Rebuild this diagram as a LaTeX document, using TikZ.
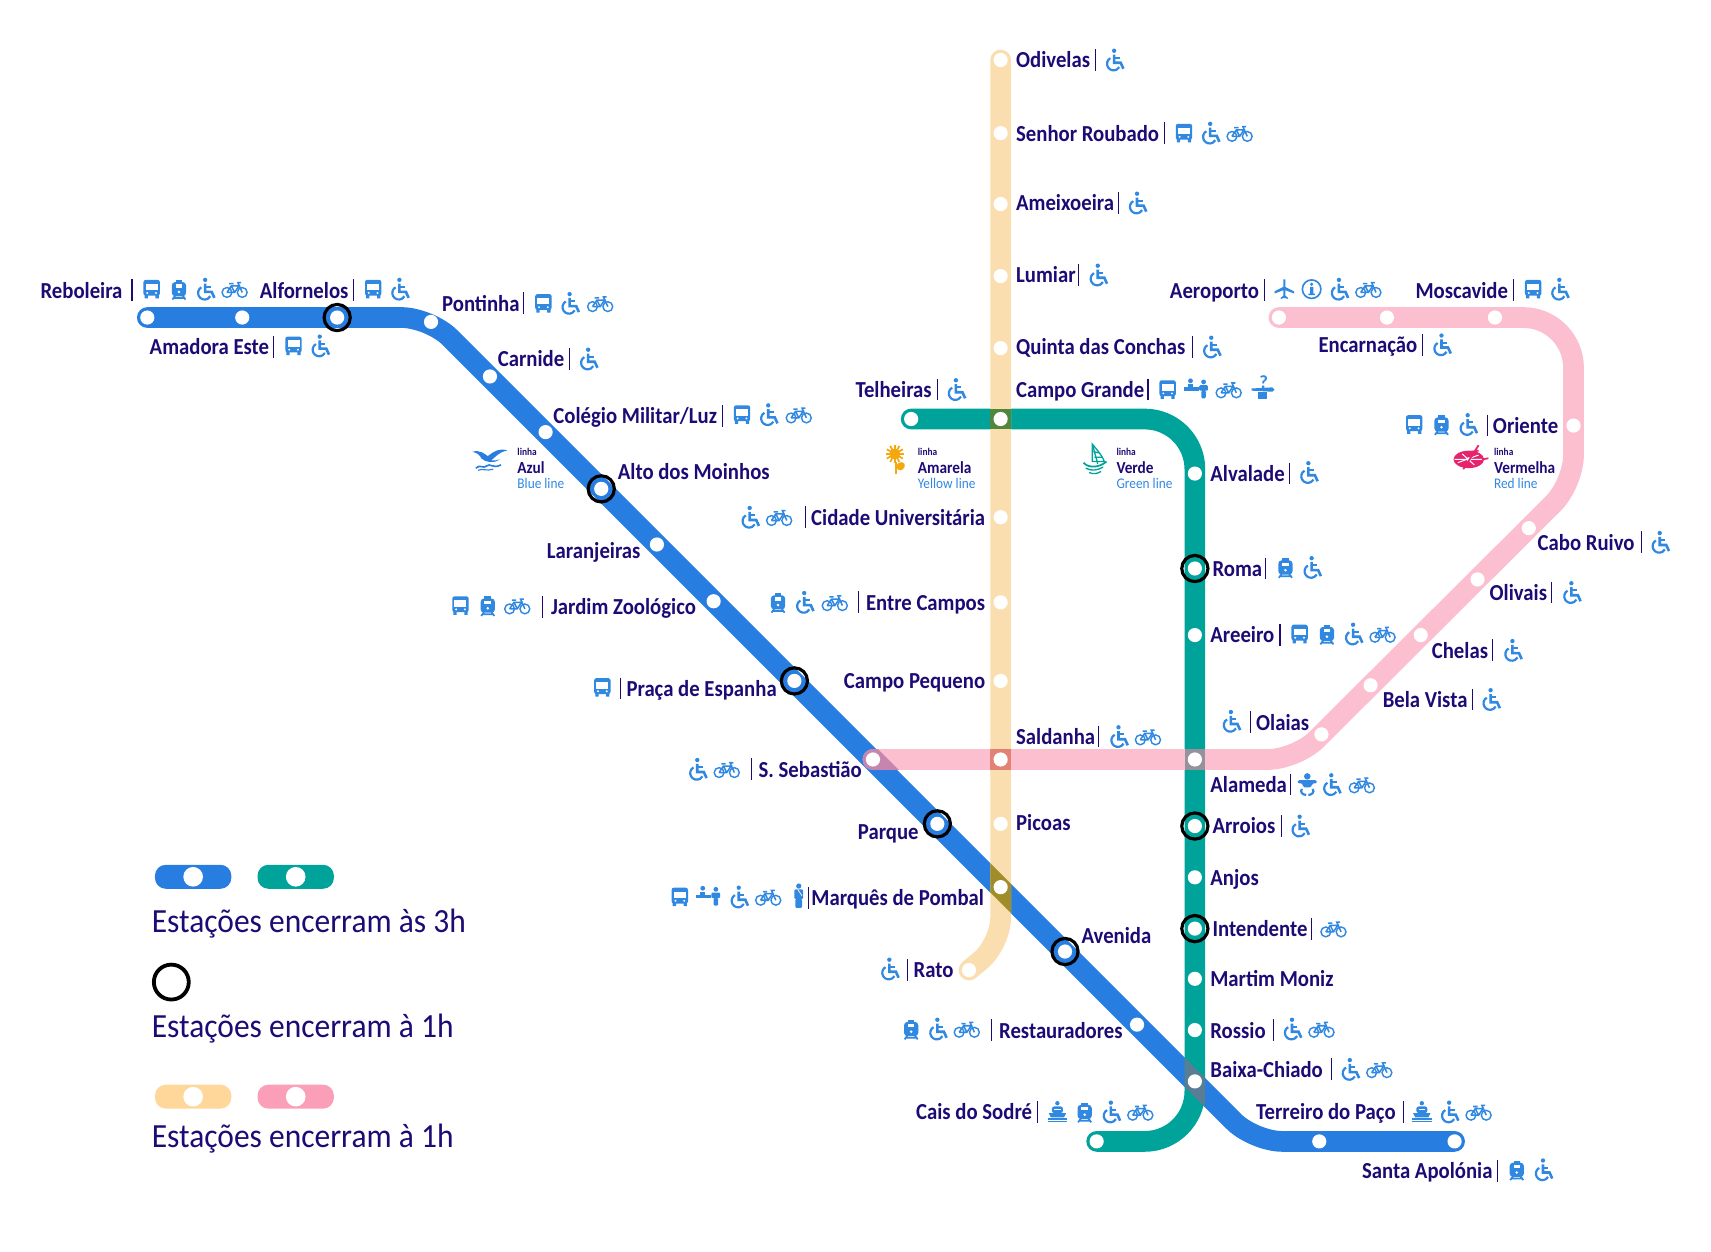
\documentclass[tikz,border=0pt]{standalone}
\usepackage{fontspec}
\setmainfont{Carlito}
\newfontfamily\stnfont{Carlito}[FakeStretch=0.905]
\newfontfamily\keyfont{Carlito}[FakeStretch=0.93]
\usepackage{tikz}
\definecolor{navy}{HTML}{1D0A74}
\definecolor{iconblue}{HTML}{3088E0}
\definecolor{lineblue}{HTML}{287DE0}
\definecolor{linegreen}{HTML}{00A39A}
\definecolor{lineyellow}{HTML}{FADEAF}
\definecolor{linepink}{HTML}{FBBFCF}
\definecolor{pillyellow}{HTML}{FFD79B}
\definecolor{pillpink}{HTML}{FA9FB7}
\definecolor{flowergold}{HTML}{F5A70F}
\definecolor{compasspink}{HTML}{E6246E}
\tikzset{
  metro/.style={line width=19,line cap=round,line join=round,rounded corners=#1},
  metro/.default=0,
  stn/.style={shape=circle,draw=none,fill=white,inner sep=0pt,minimum size=13},
  ringstn/.style={shape=circle,draw=black,line width=2.9,fill=none,inner sep=0pt,minimum size=24},
  lw/.style={anchor=west,inner sep=0pt,text=navy,text height=17.5,text depth=3,font=\fontsize{21}{21}\stnfont\bfseries},
  le/.style={lw,anchor=east},
  legendtext/.style={anchor=west,inner sep=0pt,text=navy,text height=20,text depth=3,font=\fontsize{31}{31}\keyfont},
  sepline/.style={draw=navy,line width=1},
  lsmall/.style={anchor=west,inner sep=0pt,text=navy,font=\fontsize{9.5}{10}\stnfont\bfseries},
  lname/.style={anchor=west,inner sep=0pt,text=navy,font=\fontsize{15.5}{16}\stnfont\bfseries},
  lenglish/.style={anchor=west,inner sep=0pt,text=iconblue,font=\fontsize{13.5}{14}\stnfont},
  busicon/.pic={
    \fill[iconblue,rounded corners=2] (-7.5,-8.5) rectangle (7.5,6);
    \fill[iconblue] (-6.5,5) rectangle (-3.5,8.5) (3.5,5) rectangle (6.5,8.5);
    \fill[white] (-5.5,-5) rectangle (5.5,1);
    \fill[white] (-4,3.5) circle (1) (4,3.5) circle (1);
  },
  trainicon/.pic={
    \fill[iconblue,rounded corners=3] (-6.5,-6.5) rectangle (6.5,6.5);
    \fill[iconblue] (-3,-8.5) rectangle (3,-5);
    \draw[iconblue,line width=1.6] (-3.5,6) -- (-6,9.5) (3.5,6) -- (6,9.5) (-5,8) -- (5,8);
    \fill[white] (-3,-4.5) rectangle (3,-1.5);
    \fill[white] (0,2.5) circle (1.3);
  },
  wheelicon/.pic={
    \fill[iconblue] (-1,-8.5) circle (2);
    \draw[iconblue,line width=2.4] (-1,-5) -- (-1,2.5) -- (5,2.5) -- (7.5,8);
    \draw[iconblue,line width=1.8] (-1,-2) -- (4,-2);
    \draw[iconblue,line width=2] ([shift={(240:6)}]-1.5,3.5) arc (240:30:6);
  },
  bikeicon/.pic={
    \draw[iconblue,line width=1.3] (-7,3) circle (4.5) (7,3) circle (4.5);
    \draw[iconblue,line width=1.4] (-7,3) -- (-3,-3) -- (4,-3) -- (0,3) -- (-7,3) (-3,-3) -- (0,3) (7,3) -- (3,-6) -- (6,-6) (-5,-5) -- (-1,-5);
  },
  deskicon/.pic={
    \fill[iconblue] (-12,-2) rectangle (2,1);
    \fill[iconblue] (-6,-8) circle (2.2) (6,-7) circle (2.2);
    \fill[iconblue] (-8.5,-5) rectangle (-3.5,-2);
    \fill[iconblue,rounded corners=1] (2,-4) rectangle (10,1) (4,1) rectangle (8,8);
  },
  policeicon/.pic={
    \fill[iconblue] (0,-10) circle (2.4);
    \fill[iconblue,rounded corners=1] (-4,-7) rectangle (4,2) (-3,2) rectangle (3,10);
    \draw[white,line width=.6] (-1,-7) -- (3,-1);
  },
  babyicon/.pic={
    \fill[iconblue] (0,-7.5) circle (3);
    \fill[iconblue,rounded corners=1.5] (-9,-4) -- (9,-4) -- (9,-1) -- (4,-1) -- (4,2.5) -- (-4,2.5) -- (-4,-1) -- (-9,-1) -- cycle;
    \draw[iconblue,line width=2] (-5,4) .. controls (-7,7) and (-4,9.5) .. (-1,9.5) (5,4) .. controls (7,7) and (4,9.5) .. (1,9.5);
  },
  asticon/.pic={
    \fill[iconblue] (-4,2) rectangle (4,9);
    \fill[iconblue] (-10,-1) -- (9,-2) -- (11,0) -- (9,2) -- (-10,1) -- cycle;
    \node[inner sep=0pt,text=iconblue,font=\fontsize{17}{17}\bfseries] (askmark) at (1,-7) {?};
  },
  shipicon/.pic={
    \fill[iconblue] (-8,1) -- (8,1) -- (6,5) -- (-6,5) -- cycle;
    \fill[iconblue,rounded corners=2] (-5,-5) rectangle (5,1);
    \fill[iconblue] (0,-8) circle (2);
    \draw[iconblue,line width=1.2] (-9,6.5) -- (9,6.5) (-9,8.5) -- (9,8.5);
    \draw[white,line width=1] (-3,-2) -- (3,-2);
  },
  planeicon/.pic={
    \fill[iconblue] (-1,-9) -- (1,-9) -- (1,-2) -- (9,2) -- (9,4) -- (1,1) -- (1,6) -- (3.5,8) -- (3.5,9) -- (0,8) -- (-3.5,9) -- (-3.5,8) -- (-1,6) -- (-1,1) -- (-9,4) -- (-9,2) -- (-1,-2) -- cycle;
  },
  infoicon/.pic={
    \draw[iconblue,line width=1.5] (0,0) circle (8.5);
    \fill[iconblue] (0,-4.5) circle (1.6);
    \fill[iconblue] (-1.5,-2) rectangle (1.5,4.5) (-3,4) rectangle (3,5.5);
  },
  gullicon/.pic={
    \fill[lineblue] (-16,-7) .. controls (-9,-9) and (-5,-5) .. (-2,-3) .. controls (3,-7) and (9,-11) .. (16,-8) .. controls (8,-7) and (5,-2) .. (1,1) .. controls (4,2) and (7,0) .. (9,0) .. controls (4,4) and (-4,3) .. (-8,-1) .. controls (-9,-4) and (-12,-6) .. (-16,-7);
    \draw[lineblue,line width=1.5] (-13,8) .. controls (-9,4) and (-6,9) .. (-3,6) .. controls (0,3) and (3,9) .. (10,5);
    \draw[lineblue,line width=1] (-11,10) .. controls (-7,8) and (-3,11) .. (3,9);
  },
  flowericon/.pic={
    \foreach \ang in {0,30,...,330} {\draw[flowergold,line width=1.6] (-1,-4) -- ++(\ang:8.5);}
    \fill[flowergold] (-1,-4) circle (5);
    \draw[flowergold,line width=1.2] (0,3) -- (0,14);
    \fill[flowergold] (0,8) .. controls (2,1) and (10,3) .. (8,8) .. controls (6,12) and (2,12) .. (0,8);
  },
  boaticon/.pic={
    \draw[linegreen,line width=1.2] (-2,-14) -- (3,4) (-2,-14) .. controls (3,-8) and (8,-2) .. (9,2) -- (-2,2) -- cycle;
    \draw[linegreen,line width=1.2] (-1,-7) -- (4,-6) (0,-2) -- (7,-2);
    \draw[linegreen,line width=1.6] (-10,3) .. controls (-6,8) and (4,8) .. (11,2);
    \draw[linegreen,line width=1.2] (-8,8) .. controls (-3,11) and (3,10) .. (8,7) (-5,12) .. controls (-1,14) and (3,13) .. (6,11);
  },
  compassicon/.pic={
    \fill[compasspink] (0,1) ellipse (14 and 8);
    \draw[white,line width=.9] (-10,4) -- (9,-3) (-6,-4) -- (5,6) (-13,1) -- (13,1);
    \fill[white] (0,1) circle (2);
    \draw[compasspink,line width=1.6] (-5,10) -- (9,-12) (2,-6) -- (9,-7) (12,1) -- (18,0);
  },
}
\newcommand{\sepbar}[2]{\draw[sepline] (#1,#2-10) -- (#1,#2+10);}
\newcommand{\icons}[2]{\foreach \ic/\ix in {#2} {\pic at (\ix,#1) {\ic};}}
\begin{document}
\begin{tikzpicture}[x=1pt,y=-1pt]
\useasboundingbox (0,0) rectangle (1568,1147.3);
% bends and ends of the lines
\coordinate (blueA) at (135,291);
\coordinate (blueB) at (394,291);
\coordinate (blueC) at (1149,1046);
\coordinate (blueD) at (1333,1046);
\coordinate (greenA) at (835,384);
\coordinate (greenB) at (1095,384);
\coordinate (greenC) at (1095,1046);
\coordinate (greenD) at (1005,1046);
\coordinate (yellowA) at (917,55);
\coordinate (yellowB) at (917,865);
\coordinate (yellowC) at (888,889);
\coordinate (pinkA) at (1172,291);
\coordinate (pinkB) at (1442,291);
\coordinate (pinkC) at (1442,443);
\coordinate (pinkD) at (1188,696);
\coordinate (pinkE) at (800,696);
% the four lines
\draw[metro=26,lineblue] (blueA) -- (blueB) -- (blueC) -- (blueD);
\draw[metro=46,linegreen] (greenA) -- (greenB) -- (greenC) -- (greenD);
\draw[metro=24,lineyellow] (yellowA) -- (yellowB) -- (yellowC);
\draw[metro=46,linepink] (pinkA) -- (pinkB) [rounded corners=26] -- (pinkC) -- (pinkD) -- (pinkE);
% crossings
\fill[color={rgb,255:red,80;green,135;blue,60}] (907.5,374.5) rectangle (926.5,393.5);
\fill[color={rgb,255:red,225;green,130;blue,115}] (907.5,686.5) rectangle (926.5,705.5);
\fill[color={rgb,255:red,150;green,145;blue,155}] (1085.5,686.5) rectangle (1104.5,705.5);
\fill[color={rgb,255:red,160;green,140;blue,40}] (907.5,791.1) -- (926.5,810.1) -- (926.5,836.9) -- (907.5,817.9) -- cycle;
\fill[color={rgb,255:red,90;green,125;blue,150}] (1085.5,969.1) -- (1104.5,988.1) -- (1104.5,1014.9) -- (1085.5,995.9) -- cycle;
\begin{scope}
\clip (770,680.4) -- (835,745.4) -- (850,732) -- (790,672) -- (770,653) -- cycle;
\draw[metro=0,color={rgb,255:red,198;green,133;blue,173}] (pinkD) -- (pinkE);
\end{scope}
% stations of the blue line
\foreach \nm/\px/\py in {reboleira/135/291,amadora/222/291,alfornelos/309/291,pontinha/395/295,carnide/449/345,colegio/500/396,alto/551/448,laranjeiras/602/499,jardim/654/551,praca/728/624,sebastiao/800/696,parque/859/755,marques/917/813,avenida/976/872,restauradores/1042/939,baixa/1095/991,terreiro/1209/1046,santa/1333/1046}
  {\node[stn] (\nm) at (\px,\py) {};}
% stations of the yellow line
\foreach \nm/\px/\py in {odivelas/917/55,senhor/917/122,ameixoeira/917/187,lumiar/917/253,quinta/917/319,campogrande/917/384,cidade/917/474,entrecampos/917/552,campopequeno/917/624,saldanha/917/696,picoas/917/755,rato/888/889}
  {\node[stn] (\nm) at (\px,\py) {};}
% stations of the green line
\foreach \nm/\px/\py in {telheiras/835/384,alvalade/1095/434,roma/1095/521,areeiro/1095/582,alameda/1095/696,arroios/1095/757,anjos/1095/804,intendente/1095/851,martim/1095/897,rossio/1095/944,cais/1005/1046}
  {\node[stn] (\nm) at (\px,\py) {};}
% stations of the red line
\foreach \nm/\px/\py in {aeroporto/1172/291,encarnacao/1271/291,moscavide/1370/291,oriente/1442/390,caboruivo/1401/484,olivais/1354/531,chelas/1302/582,belavista/1256/628,olaias/1211/673}
  {\node[stn] (\nm) at (\px,\py) {};}
% black rings
\foreach \nm in {alfornelos,alto,praca,parque,avenida,roma,arroios,intendente}
  {\node[ringstn] at (\nm) {};}
% labels, blue line
\node[lw] (lReboleira) at (37,266) {Reboleira};
\sepbar{121}{266}
\icons{265}{busicon/139,trainicon/164,wheelicon/189,bikeicon/215}
\node[lw] (lAlfornelos) at (238,266) {Alfornelos};
\sepbar{324}{266}
\icons{265}{busicon/342,wheelicon/367}
\node[lw] (lAmadora) at (137,318) {Amadora Este};
\sepbar{251}{318}
\icons{317}{busicon/269,wheelicon/294}
\node[lw] (lPontinha) at (405,278) {Pontinha};
\sepbar{480}{278}
\icons{278}{busicon/498,wheelicon/523,bikeicon/550}
\node[lw] (lCarnide) at (456,329) {Carnide};
\sepbar{522}{329}
\icons{329}{wheelicon/540}
\node[lw] (lColegio) at (507,381) {Colégio Militar/Luz};
\sepbar{662}{381}
\icons{380}{busicon/680,wheelicon/705,bikeicon/732}
\node[lw] (lAlto) at (566,432) {Alto dos Moinhos};
\node[lw] (lLaranjeiras) at (501,505) {Laranjeiras};
\node[le] (lJardim) at (638,556) {Jardim Zoológico};
\sepbar{497}{556}
\icons{555}{busicon/422,trainicon/447,bikeicon/474}
\node[le] (lPraca) at (712,631) {Praça de Espanha};
\sepbar{569}{631}
\icons{630}{busicon/552}
\node[le] (lSebastiao) at (790,705) {S. Sebastião};
\sepbar{689}{705}
\icons{705}{wheelicon/640,bikeicon/666}
\node[le] (lParque) at (842,762) {Parque};
\node[le] (lMarques) at (902,823) {Marquês de Pombal};
\sepbar{741}{823}
\icons{822}{busicon/623,deskicon/650,wheelicon/678,bikeicon/704,policeicon/732}
\node[lw] (lAvenida) at (991,857) {Avenida};
\node[le] (lRestauradores) at (1029,944) {Restauradores};
\sepbar{909}{944}
\icons{943}{trainicon/835,wheelicon/860,bikeicon/886}
\node[lw] (lTerreiro) at (1151,1019) {Terreiro do Paço};
\sepbar{1286}{1019}
\icons{1019}{shipicon/1303,wheelicon/1329,bikeicon/1355}
\node[lw] (lSanta) at (1248,1073) {Santa Apolónia};
\sepbar{1372}{1073}
\icons{1072}{trainicon/1390,wheelicon/1415}
% labels, yellow line
\node[lw] (lOdivelas) at (931,55) {Odivelas};
\sepbar{1004}{55}
\icons{55}{wheelicon/1022}
\node[lw] (lSenhor) at (931,122) {Senhor Roubado};
\sepbar{1067}{122}
\icons{122}{busicon/1085,wheelicon/1110,bikeicon/1136}
\node[lw] (lAmeixoeira) at (931,186) {Ameixoeira};
\sepbar{1025}{186}
\icons{186}{wheelicon/1043}
\node[lw] (lLumiar) at (931,252) {Lumiar};
\sepbar{988}{252}
\icons{252}{wheelicon/1007}
\node[lw] (lQuinta) at (931,318) {Quinta das Conchas};
\sepbar{1093}{318}
\icons{318}{wheelicon/1111}
\node[lw] (lCampoGrande) at (931,357) {Campo Grande};
\sepbar{1052}{357}
\icons{357}{busicon/1070,deskicon/1097,bikeicon/1126,asticon/1157}
\node[le] (lCidade) at (903,474) {Cidade Universitária};
\sepbar{738}{474}
\icons{474}{wheelicon/688,bikeicon/714}
\node[le] (lEntre) at (903,552) {Entre Campos};
\sepbar{787}{552}
\icons{552}{trainicon/713,wheelicon/738,bikeicon/765}
\node[le] (lPequeno) at (903,624) {Campo Pequeno};
\node[lw] (lSaldanha) at (931,675) {Saldanha};
\sepbar{1007}{675}
\icons{675}{wheelicon/1026,bikeicon/1052}
\node[lw] (lPicoas) at (931,754) {Picoas};
\node[le] (lRato) at (874,889) {Rato};
\sepbar{832}{889}
\icons{888}{wheelicon/816}
% labels, green line
\node[le] (lTelheiras) at (854,357) {Telheiras};
\sepbar{859}{357}
\icons{357}{wheelicon/877}
\node[lw] (lAlvalade) at (1109,434) {Alvalade};
\sepbar{1182}{434}
\icons{433}{wheelicon/1200}
\node[lw] (lRoma) at (1111,521) {Roma};
\sepbar{1160}{521}
\icons{520}{trainicon/1178,wheelicon/1203}
\node[lw] (lAreeiro) at (1109,582) {Areeiro};
\sepbar{1173}{582}
\icons{581}{busicon/1191,trainicon/1216,wheelicon/1241,bikeicon/1267}
\node[lw] (lAlameda) at (1109,719) {Alameda};
\sepbar{1183}{719}
\icons{719}{babyicon/1198,wheelicon/1221,bikeicon/1248}
\node[lw] (lArroios) at (1111,757) {Arroios};
\sepbar{1174}{757}
\icons{757}{wheelicon/1192}
\node[lw] (lAnjos) at (1109,804) {Anjos};
\node[lw] (lIntendente) at (1111,851) {Intendente};
\sepbar{1202}{851}
\icons{851}{bikeicon/1222}
\node[lw] (lMartim) at (1109,897) {Martim Moniz};
\node[lw] (lRossio) at (1109,944) {Rossio};
\sepbar{1167}{944}
\icons{943}{wheelicon/1185,bikeicon/1211}
\node[lw] (lBaixa) at (1109,980) {Baixa-Chiado};
\sepbar{1220}{980}
\icons{980}{wheelicon/1238,bikeicon/1264}
\node[le] (lCais) at (946,1019) {Cais do Sodré};
\sepbar{951}{1019}
\icons{1019}{shipicon/969,trainicon/994,wheelicon/1019,bikeicon/1045}
% labels, red line
\node[le] (lAeroporto) at (1154,266) {Aeroporto};
\sepbar{1159}{266}
\icons{265}{planeicon/1177,infoicon/1202,wheelicon/1228,bikeicon/1254}
\node[lw] (lMoscavide) at (1297,266) {Moscavide};
\sepbar{1387}{266}
\icons{265}{busicon/1405,wheelicon/1430}
\node[le] (lEncarnacao) at (1299,316) {Encarnação};
\sepbar{1304}{316}
\icons{316}{wheelicon/1322}
\node[lw] (lOriente) at (1368,390) {Oriente};
\sepbar{1363}{390}
\icons{389}{busicon/1296,trainicon/1321,wheelicon/1346}
\node[lw] (lCabo) at (1409,497) {Cabo Ruivo};
\sepbar{1504}{497}
\icons{497}{wheelicon/1522}
\node[lw] (lOlivais) at (1365,543) {Olivais};
\sepbar{1422}{543}
\icons{543}{wheelicon/1441}
\node[lw] (lChelas) at (1312,596) {Chelas};
\sepbar{1368}{596}
\icons{596}{wheelicon/1387}
\node[lw] (lBela) at (1267,641) {Bela Vista};
\sepbar{1349}{641}
\icons{641}{wheelicon/1367}
\node[lw] (lOlaias) at (1151,662) {Olaias};
\sepbar{1146}{662}
\icons{661}{wheelicon/1129}
% line badges
\pic at (449,421) {gullicon};
\node[lsmall] (azulA) at (474,414) {linha};
\node[lname] (azulB) at (474,429) {Azul};
\node[lenglish] (azulC) at (474,443) {Blue line};
\pic at (821,420) {flowericon};
\node[lsmall] (amarelaA) at (841,414) {linha};
\node[lname] (amarelaB) at (841,429) {Amarela};
\node[lenglish] (amarelaC) at (841,443) {Yellow line};
\pic at (1003,421) {boaticon};
\node[lsmall] (verdeA) at (1023,414) {linha};
\node[lname] (verdeB) at (1023,429) {Verde};
\node[lenglish] (verdeC) at (1023,443) {Green line};
\pic at (1346,420) {compassicon};
\node[lsmall] (vermelhaA) at (1369,414) {linha};
\node[lname] (vermelhaB) at (1369,429) {Vermelha};
\node[lenglish] (vermelhaC) at (1369,443) {Red line};
% legend
\fill[lineblue,rounded corners=10] (142,792.5) rectangle (212,814.5);
\fill[linegreen,rounded corners=10] (236,792.5) rectangle (306,814.5);
\node[stn,minimum size=18] (keyA) at (177,803.5) {};
\node[stn,minimum size=18] (keyB) at (271,803.5) {};
\node[legendtext] (keyC) at (139,846) {Estações encerram às 3h};
\node[ringstn,minimum size=32,line width=3.5] (keyD) at (157,900) {};
\node[legendtext] (keyE) at (139,942) {Estações encerram à 1h};
\fill[pillyellow,rounded corners=10] (142,994) rectangle (212,1016);
\fill[pillpink,rounded corners=10] (236,994) rectangle (306,1016);
\node[stn,minimum size=18] (keyF) at (177,1005) {};
\node[stn,minimum size=18] (keyG) at (271,1005) {};
\node[legendtext] (keyH) at (139,1043) {Estações encerram à 1h};
\end{tikzpicture}
\end{document}
